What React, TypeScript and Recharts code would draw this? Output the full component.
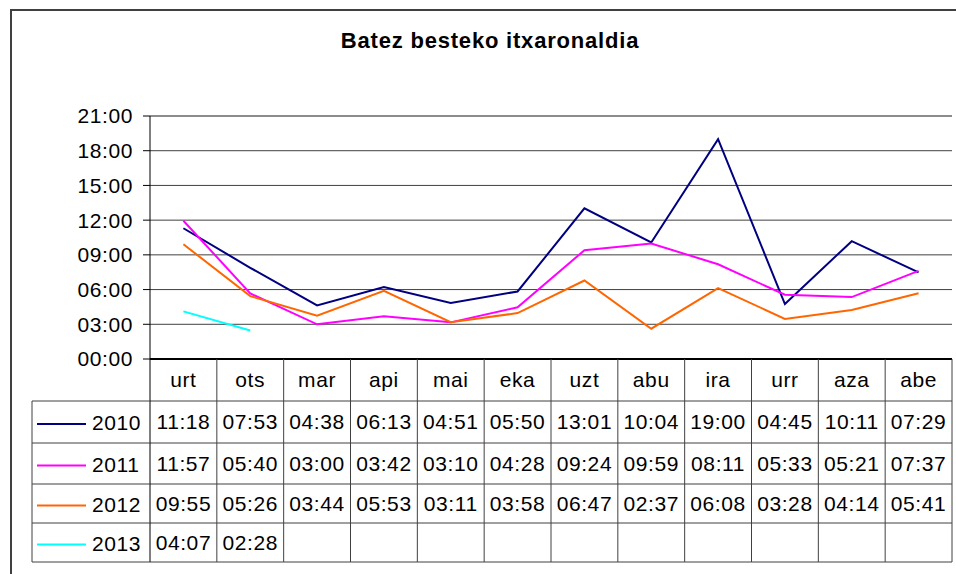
import React from 'react';
import { CartesianGrid, Line, LineChart, ReferenceLine, XAxis, YAxis } from 'recharts';

const months = ['urt', 'ots', 'mar', 'api', 'mai', 'eka', 'uzt', 'abu', 'ira', 'urr', 'aza', 'abe'];
const years = ['2010', '2011', '2012', '2013'];
const v2010 = ['11:18', '07:53', '04:38', '06:13', '04:51', '05:50', '13:01', '10:04', '19:00', '04:45', '10:11', '07:29'];
const v2011 = ['11:57', '05:40', '03:00', '03:42', '03:10', '04:28', '09:24', '09:59', '08:11', '05:33', '05:21', '07:37'];
const v2012 = ['09:55', '05:26', '03:44', '05:53', '03:11', '03:58', '06:47', '02:37', '06:08', '03:28', '04:14', '05:41'];
const v2013 = ['04:07', '02:28'];
const yTicks = [0, 3, 6, 9, 12, 15, 18, 21];

const FONT = '"Liberation Sans", Arial, sans-serif';
const FS = 21;
const LS = 0.6;
const W = 956;
const H = 574;
const PLOT_L = 150;
const PLOT_R = 952;
const PLOT_T = 116;
const PLOT_B = 359;
const ROW_EDGES = [359, 401, 443, 484, 523, 562];
const LEGEND_L = 32;
const COL_W = (PLOT_R - PLOT_L) / months.length;
const GRID = '#404040';

const series = [
  { year: years[0], key: 'y2010', values: v2010, color: '#000080' },
  { year: years[1], key: 'y2011', values: v2011, color: '#FF00FF' },
  { year: years[2], key: 'y2012', values: v2012, color: '#FF6600' },
  { year: years[3], key: 'y2013', values: v2013, color: '#00FFFF' },
];

const toHours = (s?: string) => {
  if (!s) return null;
  const [h, m] = s.split(':').map(Number);
  return h + m / 60;
};

const data = months.map((month, i) => {
  const row: Record<string, string | number | null> = { month };
  series.forEach(s => { row[s.key] = toHours(s.values[i]); });
  return row;
});

const fmtHour = (v: number) => String(v).padStart(2, '0') + ':00';

// each category tick draws its column of the data table
function TableTick(props: any) {
  const { x, payload } = props;
  const i = payload.index;
  const left = x - COL_W / 2;
  const right = x + COL_W / 2;
  const mid = (a: number, b: number) => (a + b) / 2;
  return (
    <g fontFamily={FONT} fontSize={FS} fill="#000" letterSpacing={LS}>
      <text x={x} y={mid(ROW_EDGES[0], ROW_EDGES[1])} dy="0.355em" textAnchor="middle">{payload.value}</text>
      {series.map((s, r) => (
        <text key={s.key} x={x} y={mid(ROW_EDGES[r + 1], ROW_EDGES[r + 2])} dy="0.355em" textAnchor="middle">
          {s.values[i] ?? ''}
        </text>
      ))}
      <line x1={right} x2={right} y1={ROW_EDGES[0]} y2={ROW_EDGES[5]} stroke={GRID} strokeWidth={1} />
      {ROW_EDGES.slice(1).map(e => (
        <line key={e} x1={left} x2={right} y1={e} y2={e} stroke={GRID} strokeWidth={1} />
      ))}
      {i === 0 && (
        <g>
          <line x1={left} x2={left} y1={ROW_EDGES[0]} y2={ROW_EDGES[5]} stroke="#000" strokeWidth={1} />
          <line x1={LEGEND_L} x2={LEGEND_L} y1={ROW_EDGES[1]} y2={ROW_EDGES[5]} stroke={GRID} strokeWidth={1} />
          {ROW_EDGES.slice(1).map(e => (
            <line key={e} x1={LEGEND_L} x2={left} y1={e} y2={e} stroke={GRID} strokeWidth={1} />
          ))}
          {series.map((s, r) => {
            const cy = mid(ROW_EDGES[r + 1], ROW_EDGES[r + 2]);
            return (
              <g key={s.key}>
                <line x1={37} x2={86} y1={cy + 2} y2={cy + 2} stroke={s.color} strokeWidth={2} />
                <text x={92} y={cy + 1} dy="0.355em" textAnchor="start">{s.year}</text>
              </g>
            );
          })}
        </g>
      )}
    </g>
  );
}

export default function App() {
  return (
    <div style={{ position: 'relative', width: W, height: H, overflow: 'hidden', background: '#fff' }}>
      <style>{'body{margin:0}'}</style>
      <div style={{
        position: 'absolute', left: 10, top: 9, width: 980, height: 600,
        borderLeft: '2px solid #404040', borderTop: '2px solid #404040'
      }} />
      <div style={{
        position: 'absolute', left: 0, top: 28, width: 980, textAlign: 'center',
        fontFamily: FONT, fontWeight: 'bold', fontSize: 22, letterSpacing: 0.8, lineHeight: '26px', color: '#000'
      }}>
        Batez besteko itxaronaldia
      </div>
      <div style={{ position: 'absolute', left: 0, top: 0 }}>
        <LineChart
          width={W}
          height={H}
          data={data}
          margin={{ top: PLOT_T, right: W - PLOT_R, left: PLOT_L - 70, bottom: H - ROW_EDGES[5] }}
        >
          <CartesianGrid vertical={false} stroke={GRID} strokeWidth={1} />
          <XAxis
            dataKey="month"
            height={ROW_EDGES[5] - PLOT_B}
            padding={{ left: COL_W / 2, right: COL_W / 2 }}
            axisLine={{ stroke: '#000', strokeWidth: 2 }}
            tickLine={false}
            interval={0}
            tick={<TableTick />}
          />
          <YAxis
            domain={[0, 21]}
            ticks={yTicks}
            width={70}
            tickFormatter={fmtHour}
            tickSize={7}
            tickMargin={10}
            tickLine={{ stroke: '#000' }}
            axisLine={{ stroke: '#000', strokeWidth: 1 }}
            tick={{ fill: '#000', fontSize: FS, fontFamily: FONT, letterSpacing: LS }}
            allowDataOverflow
          />
          <YAxis yAxisId="right" orientation="right" width={0} tick={false} tickLine={false}
            axisLine={{ stroke: '#8c8c8c', strokeWidth: 2 }} />
          <ReferenceLine y={21} stroke="#8c8c8c" strokeWidth={2} />
          {series.map(s => (
            <Line
              key={s.key}
              type="linear"
              dataKey={s.key}
              stroke={s.color}
              strokeWidth={2}
              dot={false}
              activeDot={false}
              connectNulls={false}
              isAnimationActive={false}
            />
          ))}
        </LineChart>
      </div>
    </div>
  );
}
